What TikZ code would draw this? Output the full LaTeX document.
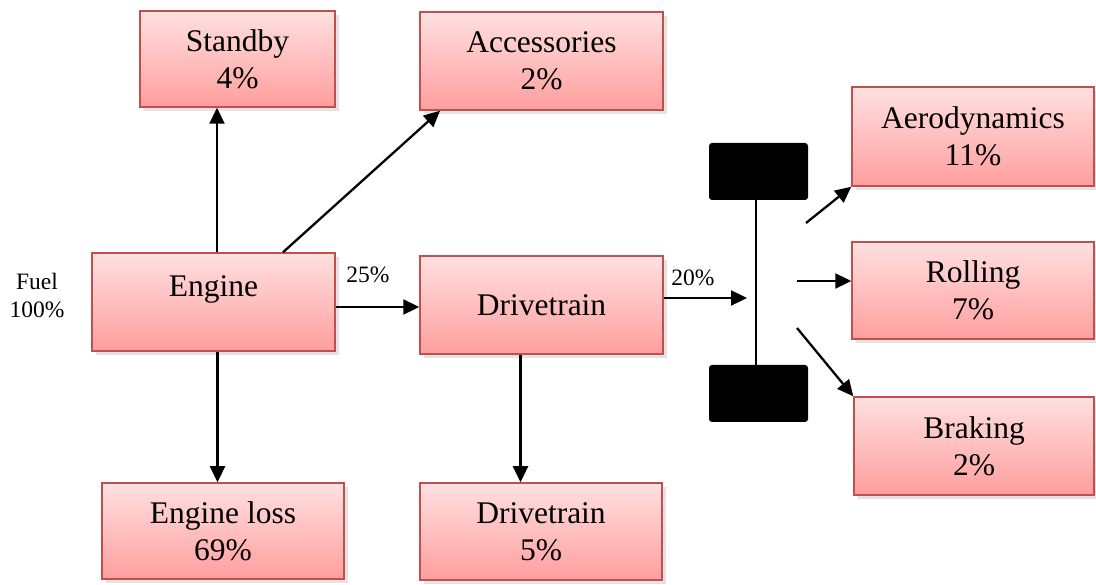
\documentclass[tikz,border=0pt]{standalone}
\usepackage{fontspec}
\setmainfont{Liberation Serif}
\usetikzlibrary{arrows.meta,shadows}
\definecolor{boxtop}{RGB}{255,224,224}
\definecolor{boxbot}{RGB}{255,158,158}
\definecolor{boxline}{RGB}{192,80,77}
\tikzset{
  box/.style={rectangle, draw=boxline, line width=1.5pt, top color=boxtop, bottom color=boxbot,
    drop shadow={shadow xshift=3.5pt, shadow yshift=-4pt, fill=black!22},
    inner sep=0pt, align=center, font=\fontsize{31.5}{37}\selectfont},
  wheel/.style={rectangle, fill=black, rounded corners=3pt, inner sep=0pt, minimum width=99pt, minimum height=57pt},
  arr/.style={line width=2.3pt, -{Triangle[length=16pt,width=15pt]}},
  lab/.style={inner sep=0pt, align=center, font=\fontsize{23.5}{28}\selectfont}
}
\begin{document}
\begin{tikzpicture}[x=1pt,y=-1pt]
\useasboundingbox (0,0) rectangle (1096,585);
\node[box, minimum width=243pt, minimum height=98pt] (engine) at (213.5,302) {Engine\\[-6pt]\mbox{}};
\node[box, minimum width=195pt, minimum height=96pt] (standby) at (237.5,59) {Standby\\4\%};
\node[box, minimum width=243pt, minimum height=98pt] (acc) at (541.5,61) {Accessories\\2\%};
\node[box, minimum width=243pt, minimum height=98pt] (drive) at (541.5,305) {Drivetrain};
\node[box, minimum width=242pt, minimum height=96pt] (eloss) at (223,531) {Engine loss\\69\%};
\node[box, minimum width=242pt, minimum height=97pt] (drive5) at (541,531.5) {Drivetrain\\5\%};
\node[box, minimum width=242pt, minimum height=99pt] (aero) at (973,136.5) {Aerodynamics\\11\%};
\node[box, minimum width=242pt, minimum height=97pt] (roll) at (973,290.5) {Rolling\\7\%};
\node[box, minimum width=240pt, minimum height=98pt] (brake) at (974,446) {Braking\\2\%};

\node[wheel] (wtop) at (758.5,171.5) {};
\node[wheel] (wbot) at (758.5,393.5) {};
\draw[line width=1.5pt] ([xshift=-2.5pt]wtop.south) -- ([xshift=-2.5pt]wbot.north);

\node[lab] (fuel) at (37,296) {Fuel\\100\%};
\node[lab] (l25) at (368,275) {25\%};
\node[lab] (l20) at (693,278) {20\%};

% connectors
\coordinate (e1) at ([xshift=3.5pt]engine.north);
\draw[arr] (e1) -- (e1 |- standby.south);
\coordinate (e2) at ([xshift=69.5pt]engine.north);
\coordinate (a1) at ([xshift=-101.5pt]acc.south);
\draw[arr] (e2) -- (a1);
\coordinate (e3) at ([xshift=4pt]engine.south);
\draw[arr] (e3) -- (e3 |- eloss.north);
\coordinate (e4) at ([yshift=-5pt]engine.east);
\draw[arr] (e4) -- (e4 -| drive.west);
\coordinate (d1) at ([xshift=-21pt]drive.south);
\draw[arr] (d1) -- (d1 |- drive5.north);
\coordinate (d2) at ([yshift=7pt]drive.east);
\coordinate (axin) at (747,298);
\draw[arr] (d2) -- (axin);
\coordinate (o1) at (806,223);
\draw[arr] (o1) -- (aero.south west);
\coordinate (o2) at (797,281);
\draw[arr] (o2) -- (o2 -| roll.west);
\coordinate (o3) at (797,328);
\draw[arr] (o3) -- (brake.north west);
\end{tikzpicture}
\end{document}
